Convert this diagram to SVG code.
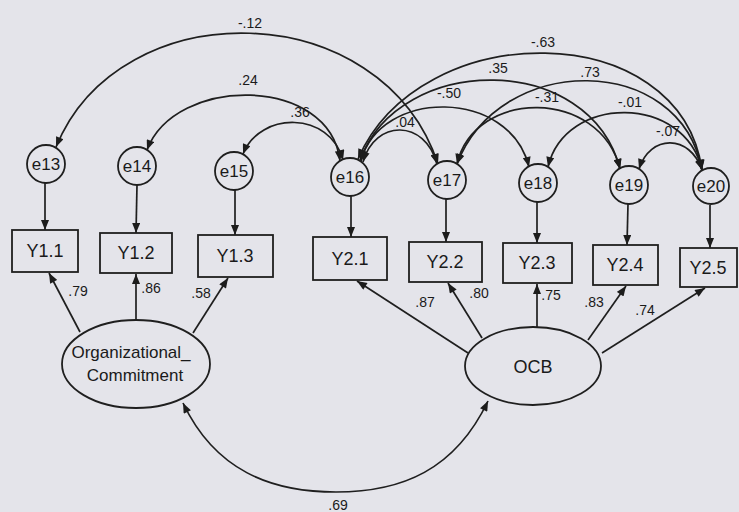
<svg xmlns="http://www.w3.org/2000/svg" width="739" height="512" viewBox="0 0 739 512">
<defs>
<marker id="ah" viewBox="0 0 10 8" refX="10" refY="4" markerWidth="12" markerHeight="8" markerUnits="userSpaceOnUse" orient="auto-start-reverse"><path d="M0,0 L10,4 L0,8 z" fill="#1c1c1c"/></marker>
</defs>
<style>
.bg{fill:#e4e4ea}
.n{fill:#e4e4ea;stroke:#1f1f1f;stroke-width:1.8}
.c{fill:none;stroke:#1f1f1f;stroke-width:1.7}
.a{marker-end:url(#ah)}
.b{marker-start:url(#ah);marker-end:url(#ah)}
.t{font-family:"Liberation Sans",Arial,sans-serif;fill:#1a1a1a;text-anchor:middle}
.tn{font-size:17px}
.tb{font-size:18px}
.tl{font-size:14px}
</style>
<rect class="bg" x="0" y="0" width="739" height="512"/>
<g id="connectors">
<line class="c a" x1="45" y1="183" x2="45" y2="230"/>
<line class="c a" x1="137" y1="185" x2="136" y2="233"/>
<line class="c a" x1="235" y1="190" x2="235" y2="235"/>
<line class="c a" x1="351" y1="196" x2="351" y2="237"/>
<line class="c a" x1="446" y1="199" x2="446" y2="242"/>
<line class="c a" x1="537" y1="202" x2="537" y2="243"/>
<line class="c a" x1="628" y1="204" x2="627" y2="245"/>
<line class="c a" x1="710" y1="205" x2="710" y2="248"/>
<line class="c a" x1="80" y1="332" x2="49" y2="273"/>
<line class="c a" x1="136" y1="320" x2="136" y2="274"/>
<line class="c a" x1="193" y1="333" x2="228" y2="278"/>
<line class="c a" x1="468" y1="353" x2="357" y2="281"/>
<line class="c a" x1="482" y1="338" x2="448" y2="283"/>
<line class="c a" x1="537" y1="327" x2="537" y2="284"/>
<line class="c a" x1="588" y1="340" x2="626" y2="286"/>
<line class="c a" x1="602" y1="353" x2="705" y2="288"/>
<path class="c b" d="M183,403 C215,470 270,492 336,492 C402,492 455,470 488,401"/>
<path class="c b" d="M56,147 C120,-10 382,-5 438,164"/>
<path class="c b" d="M147,150 C175,75 330,75 340,161"/>
<path class="c b" d="M243,154 C260,111 330,111 343,160"/>
<path class="c b" d="M358,159 C420,16 680,16 702,170"/>
<path class="c b" d="M360,160 C400,52 590,52 620,169"/>
<path class="c b" d="M361,161 C380,88 510,88 529,167"/>
<path class="c b" d="M363,162 C375,119 425,119 437,164"/>
<path class="c b" d="M457,164 C500,52 680,52 702,170"/>
<path class="c b" d="M457,164 C475,88 600,88 620,169"/>
<path class="c b" d="M548,167 C565,94 685,94 702,170"/>
<path class="c b" d="M639,169 C650,134 690,134 702,170"/>
<text class="t tl" x="78" y="296">.79</text>
<text class="t tl" x="151" y="293">.86</text>
<text class="t tl" x="201" y="298">.58</text>
<text class="t tl" x="425" y="307">.87</text>
<text class="t tl" x="479" y="298">.80</text>
<text class="t tl" x="551" y="300">.75</text>
<text class="t tl" x="594" y="307">.83</text>
<text class="t tl" x="645" y="315">.74</text>
<text class="t tl" x="338" y="510">.69</text>
<text class="t tl" x="250" y="28">-.12</text>
<text class="t tl" x="248" y="85">.24</text>
<text class="t tl" x="300" y="117">.36</text>
<text class="t tl" x="543" y="47">-.63</text>
<text class="t tl" x="498" y="73">.35</text>
<text class="t tl" x="590" y="77">.73</text>
<text class="t tl" x="449" y="98">-.50</text>
<text class="t tl" x="547" y="102">-.31</text>
<text class="t tl" x="630" y="107">-.01</text>
<text class="t tl" x="405" y="127">.04</text>
<text class="t tl" x="668" y="136">-.07</text>
</g>
<g id="e13"><circle class="n" cx="46" cy="164" r="19"/><text class="t tn" x="46" y="170">e13</text></g>
<g id="e14"><circle class="n" cx="137" cy="166" r="19"/><text class="t tn" x="137" y="172">e14</text></g>
<g id="e15"><circle class="n" cx="234" cy="171" r="19"/><text class="t tn" x="234" y="177">e15</text></g>
<g id="e16"><circle class="n" cx="350" cy="177" r="19"/><text class="t tn" x="350" y="183">e16</text></g>
<g id="e17"><circle class="n" cx="447" cy="180" r="19"/><text class="t tn" x="447" y="186">e17</text></g>
<g id="e18"><circle class="n" cx="538" cy="183" r="19"/><text class="t tn" x="538" y="189">e18</text></g>
<g id="e19"><circle class="n" cx="629" cy="185" r="19"/><text class="t tn" x="629" y="191">e19</text></g>
<g id="e20"><circle class="n" cx="711" cy="186" r="18"/><text class="t tn" x="711" y="192">e20</text></g>
<g id="Y1.1"><rect class="n" x="12" y="230" width="66" height="42"/><text class="t tb" x="45" y="257">Y1.1</text></g>
<g id="Y1.2"><rect class="n" x="100" y="233" width="72" height="40"/><text class="t tb" x="136" y="259">Y1.2</text></g>
<g id="Y1.3"><rect class="n" x="198" y="235" width="75" height="42"/><text class="t tb" x="235" y="262">Y1.3</text></g>
<g id="Y2.1"><rect class="n" x="313" y="237" width="74" height="43"/><text class="t tb" x="350" y="265">Y2.1</text></g>
<g id="Y2.2"><rect class="n" x="409" y="242" width="73" height="40"/><text class="t tb" x="445" y="268">Y2.2</text></g>
<g id="Y2.3"><rect class="n" x="503" y="243" width="69" height="40"/><text class="t tb" x="537" y="269">Y2.3</text></g>
<g id="Y2.4"><rect class="n" x="593" y="245" width="65" height="40"/><text class="t tb" x="625" y="271">Y2.4</text></g>
<g id="Y2.5"><rect class="n" x="680" y="248" width="57" height="39"/><text class="t tb" x="708" y="274">Y2.5</text></g>
<g id="Organizational_Commitment"><ellipse class="n" cx="136" cy="364" rx="74" ry="44"/><text class="t tn" x="131" y="358">Organizational_</text><text class="t tn" x="135" y="381">Commitment</text></g>
<g id="OCB"><ellipse class="n" cx="533" cy="366" rx="68" ry="39"/><text class="t tb" x="533" y="373">OCB</text></g>
</svg>
